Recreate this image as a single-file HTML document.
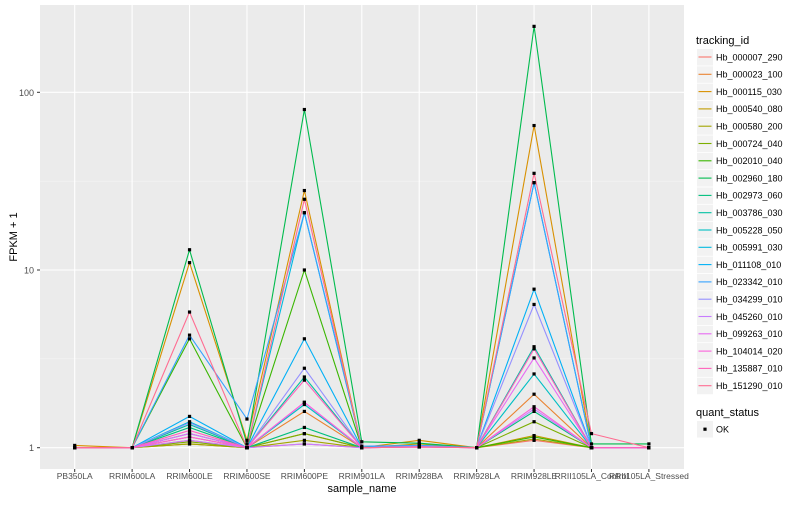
<!DOCTYPE html>
<html><head><meta charset="utf-8"><style>
body{margin:0;background:#fff;font-family:"Liberation Sans",sans-serif}
svg text{font-family:"Liberation Sans",sans-serif}
</style></head><body>
<svg id="chart" width="800" height="500" xmlns="http://www.w3.org/2000/svg">
<rect x="40" y="5" width="644" height="464" fill="#ebebeb"/>
<g id="grid"></g><g id="series"></g><g id="axes"></g><g id="legend"></g>
</svg>
<script>
const categories=["PB350LA","RRIM600LA","RRIM600LE","RRIM600SE","RRIM600PE","RRIM901LA","RRIM928BA","RRIM928LA","RRIM928LE","RRII105LA_Control","RRII105LA_Stressed"];
const seriesNames=["Hb_000007_290","Hb_000023_100","Hb_000115_030","Hb_000540_080","Hb_000580_200","Hb_000724_040","Hb_002010_040","Hb_002960_180","Hb_002973_060","Hb_003786_030","Hb_005228_050","Hb_005991_030","Hb_011108_010","Hb_023342_010","Hb_034299_010","Hb_045260_010","Hb_099263_010","Hb_104014_020","Hb_135887_010","Hb_151290_010"];
const colors=["#F8766D","#EA8331","#D89000","#C09B00","#A3A500","#7CAE00","#39B600","#00BB4E","#00BF7D","#00C1A3","#00BFC4","#00BAE0","#00B0F6","#35A2FF","#9590FF","#C77CFF","#E76BF3","#FA62DB","#FF62BC","#FF6C91"];
const s00=[1,1,1.1,1,1.05,1,1.02,1,1.1,1,1];
const s01=[1,1,1.15,1,1.6,1,1.03,1,2.0,1,1];
const s02=[1.03,1,11,1.1,28,1,1.1,1,65,1,1];
const s03=[1,1,1.05,1,1.2,1,1.05,1,1.17,1,1];
const s04=[1,1,1.05,1,1.1,1,1.02,1,1.12,1,1];
const s05=[1,1,1.08,1,1.2,1,1.02,1,1.4,1,1];
const s06=[1,1,4.1,1,10,1,1.02,1,1.15,1,1];
const s07=[1,1,13,1.05,80,1.08,1.06,1,235,1.05,1.05];
const s08=[1,1,1.3,1,1.3,1,1.02,1,1.6,1,1];
const s09=[1,1,1.35,1,2.5,1,1.02,1,3.7,1,1];
const s10=[1,1,1.2,1,1.75,1,1.02,1,2.6,1,1];
const s11=[1,1,1.4,1,21,1,1.02,1,31,1,1];
const s12=[1,1,1.5,1,4.1,1,1.03,1,7.8,1,1];
const s13=[1,1,4.3,1.45,21,1.02,1.03,1,31,1,1];
const s14=[1,1,1.38,1,2.8,1,1.02,1,6.4,1,1];
const s15=[1,1,1.1,1,1.05,1,1.01,1,1.65,1,1];
const s16=[1,1,1.2,1,1.8,1,1.01,1,3.2,1,1];
const s17=[1,1,1.15,1,1.8,1,1.01,1,1.7,1,1];
const s18=[1,1,1.25,1,2.4,1,1.01,1,3.6,1,1];
const s19=[1,1,5.8,1,25,1,1.01,1,35,1.2,1.0];
const seriesValues=[s00,s01,s02,s03,s04,s05,s06,s07,s08,s09,s10,s11,s12,s13,s14,s15,s16,s17,s18,s19];
const yTicks=[1,10,100];
const yMinor=[Math.sqrt(10),Math.sqrt(1000)];
const NS="http://www.w3.org/2000/svg";
function mk(tag,attrs,parent){const e=document.createElementNS(NS,tag);for(const k in attrs)e.setAttribute(k,attrs[k]);parent.appendChild(e);return e;}
function xS(i){return 74.7+i*57.42;}
function yS(v){return 447.7-Math.log10(v)*177.7;}
const grid=document.getElementById('grid'),ser=document.getElementById('series'),axes=document.getElementById('axes'),leg=document.getElementById('legend');
yMinor.forEach(v=>{const l=mk('line',{x1:40,x2:684,y1:yS(v),y2:yS(v),stroke:'#f5f5f5','stroke-width':0.6},grid);

});
yTicks.forEach(v=>{const l=mk('line',{x1:40,x2:684,y1:yS(v),y2:yS(v),stroke:'#fff','stroke-width':1.1},grid);


const t=mk('text',{x:34,y:yS(v)+3.5,'text-anchor':'end','font-size':9,fill:'#4d4d4d'},axes);t.textContent=v;


const tk=mk('line',{x1:37,x2:40,y1:yS(v),y2:yS(v),stroke:'#333'},axes);

});
categories.forEach((c,i)=>{const l=mk('line',{x1:xS(i),x2:xS(i),y1:5,y2:469,stroke:'#fff','stroke-width':1.1},grid);


const t=mk('text',{x:xS(i),y:479,'text-anchor':'middle','font-size':8.5,fill:'#4d4d4d'},axes);t.textContent=c;


const tk=mk('line',{x1:xS(i),x2:xS(i),y1:469,y2:472,stroke:'#333'},axes);

});
seriesValues.forEach((vals,s)=>{const pts=vals.map((v,i)=>xS(i).toFixed(1)+','+yS(v).toFixed(1)).join(' ');
const p=mk('polyline',{points:pts,fill:'none',stroke:colors[s],'stroke-width':1.1},ser);

});
seriesValues.forEach((vals,s)=>{vals.forEach((v,i)=>{const r=mk('rect',{x:xS(i)-1.6,y:yS(v)-1.6,width:3.2,height:3.2,fill:'#000'},ser);

});});
const yt=mk('text',{x:0,y:0,transform:'translate(17,237) rotate(-90)','text-anchor':'middle','font-size':11,fill:'#000'},axes);yt.textContent='FPKM + 1';


const xt=mk('text',{x:362,y:492,'text-anchor':'middle','font-size':11,fill:'#000'},axes);xt.textContent='sample_name';


const lt=mk('text',{x:696,y:44,'font-size':11,fill:'#000'},leg);lt.textContent='tracking_id';


seriesNames.forEach((n,s)=>{const cy=57+s*17.3;
const g=mk('g',{},leg);


mk('rect',{x:697,y:cy-8,width:16,height:16.5,fill:'#f2f2f2'},g);
mk('line',{x1:698.5,x2:711.5,y1:cy,y2:cy,stroke:colors[s],'stroke-width':1.1},g);
const t=mk('text',{x:716,y:cy+3.3,'font-size':9,fill:'#000'},g);t.textContent=n;});
const qt=mk('text',{x:696,y:416,'font-size':11,fill:'#000'},leg);qt.textContent='quant_status';


const qg=mk('g',{},leg);


mk('rect',{x:697,y:421,width:16,height:16.5,fill:'#f2f2f2'},qg);
mk('rect',{x:703.4,y:427.6,width:3.2,height:3.2,fill:'#000'},qg);
const ok=mk('text',{x:716,y:432.5,'font-size':9,fill:'#000'},qg);ok.textContent='OK';
</script>
</body></html>
